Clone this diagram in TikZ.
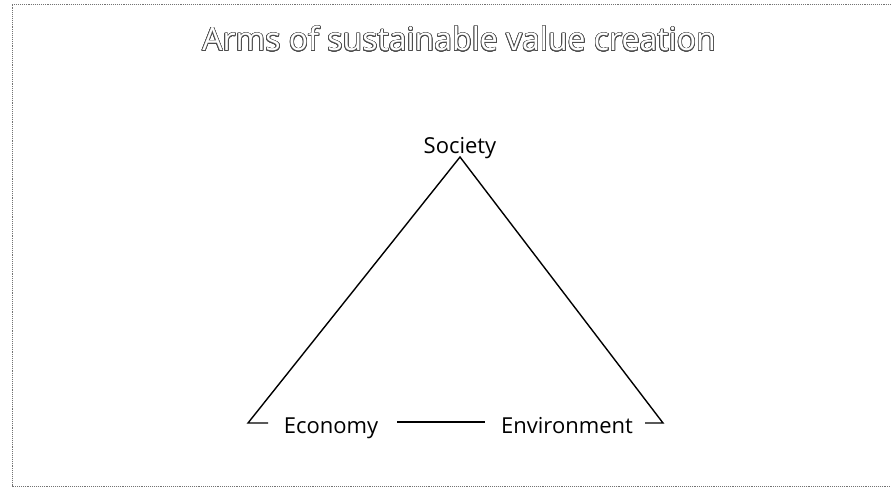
\documentclass[tikz,border=0pt]{standalone}
\usepackage{fontspec}
\setmainfont{Open Sans}
\usepackage{contour}
\contourlength{0.7pt}
\contournumber{24}
\tikzset{
  frameline/.style={densely dotted, line width=0.9pt, black!55},
  arm/.style={line width=1.4pt, black},
  lbl/.style={anchor=base, inner sep=0pt, font=\fontsize{22}{26}\selectfont, text=black},
  ttl/.style={anchor=base, inner sep=0pt, font=\fontsize{32}{38}\selectfont}
}
\begin{document}
\begin{tikzpicture}[x=1pt,y=-1pt]
\useasboundingbox (0,0) rectangle (891,487);
\fill[white] (0,0) rectangle (891,487);
% frame
\coordinate (ftr) at (891,4);
\coordinate (ftl) at (12,4);
\coordinate (fbl) at (12,486);
\coordinate (fbr) at (891,486);
\draw[frameline] (ftr) -- (ftl) -- (fbl) -- (fbr);
% title
\node[ttl] (title) at (459,51) {\color{white}\contour{black!70}{Arms of sustainable value creation}};
% labels
\node[lbl] (soc) at (460,153) {Society};
\node[lbl] (econ) at (331,433) {Economy};
\node[lbl] (env) at (567,433) {Environment};
% triangle
\coordinate (apex) at (460,157);
\coordinate (lc) at (248,423);
\coordinate (lt) at (268,423);
\coordinate (rc) at (663,423);
\coordinate (rt) at (645,423);
\draw[arm, line join=miter] (lt) -- (lc) -- (apex) -- (rc) -- (rt);
\draw[arm] ([xshift=19pt,yshift=11pt]econ.base east) -- ([xshift=-16pt,yshift=11pt]env.base west);
\end{tikzpicture}
\end{document}
